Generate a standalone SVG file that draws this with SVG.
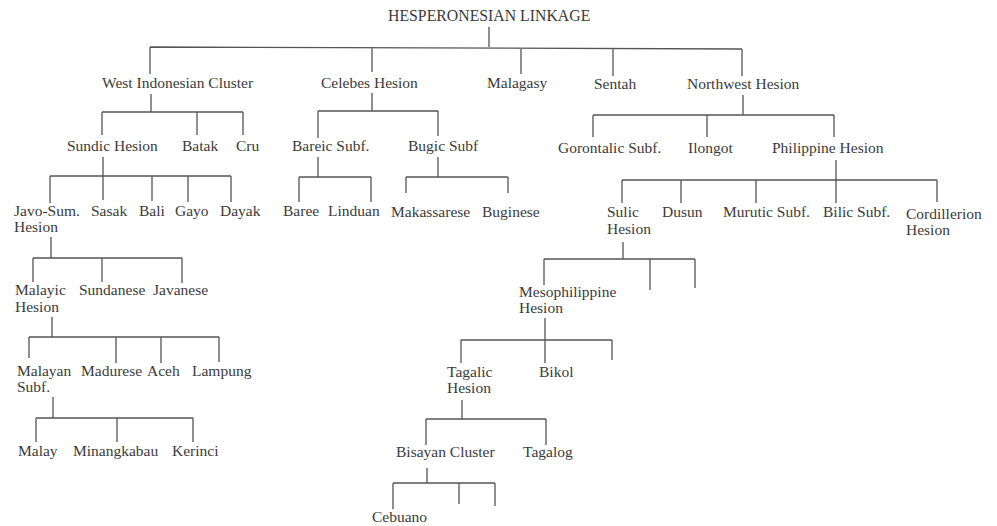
<svg xmlns="http://www.w3.org/2000/svg" width="997" height="526" viewBox="0 0 997 526">
  <style>
    text { font-family: "Liberation Serif", "Times New Roman", serif; font-size: 15.5px; fill: #3a3a3a; }
    .root { font-size: 15.8px; }
    #connectors path { fill: none; stroke: #555; stroke-width: 1.3; }
  </style>
  <rect width="997" height="526" fill="#ffffff"/>

  <g id="connectors">
    <!-- root -->
    <path d="M489,27 V47 M150,47 L742,49 M150,47 V74 M372,47 V72 M521,48 V74 M613,48 V76 M742,49 V76"/>
    <!-- West Indonesian Cluster -->
    <path d="M151,94 V112 M102,112 H243 M102,112 V135 M197,112 V135 M243,112 V135"/>
    <!-- Celebes Hesion -->
    <path d="M372,93 V111 M318,111 H438 M318,111 V138 M438,111 V136"/>
    <!-- Northwest Hesion -->
    <path d="M743,95 V115 M593,115 H834 M593,115 V137 M707,115 V137 M834,115 V137"/>
    <!-- Sundic Hesion -->
    <path d="M103,157 V176 M50,176 H231 M50,176 V203 M103,176 V200 M152,176 V201 M188,176 V202 M231,176 V202"/>
    <!-- Bareic Subf. -->
    <path d="M318,157 V177 M299,177 H371 M299,177 V202 M371,177 V202"/>
    <!-- Bugic Subf -->
    <path d="M438,157 V177 M406,177 H508 M406,177 V193 M508,177 V193"/>
    <!-- Philippine Hesion -->
    <path d="M836,160 V180 M622,180 H937 M622,180 V203 M681,180 V203 M756,180 V203 M836,180 V203 M937,180 V202"/>
    <!-- Javo-Sum. Hesion -->
    <path d="M51,237 V258 M33,258 H182 M33,258 V282 M102,258 V282 M182,258 V283"/>
    <!-- Malayic Hesion -->
    <path d="M52,317 V337 M29,337 H219 M29,337 V358 M116,337 V363 M161,337 V363 M219,337 V362"/>
    <!-- Malayan Subf. -->
    <path d="M53,397 V418 M36,418 H193 M36,418 V442 M117,418 V442 M193,418 V442"/>
    <!-- Sulic Hesion -->
    <path d="M623,242 V259 M544,259 H695 M544,259 V285 M650,259 V290 M695,259 V288"/>
    <!-- Mesophilippine Hesion -->
    <path d="M545,318 V340 M461,340 H612 M461,340 V363 M545,340 V363 M612,340 V360"/>
    <!-- Tagalic Hesion -->
    <path d="M462,400 V419 M426,419 H546 M426,419 V445 M546,419 V445"/>
    <!-- Bisayan Cluster -->
    <path d="M427,468 V483 M393,483 H495 M393,483 V509 M459,483 V504 M495,483 V506"/>
  </g>

  <g id="hesperonesian-linkage"><text class="root" x="388" y="21">HESPERONESIAN LINKAGE</text></g>

  <g id="west-indonesian-cluster"><text x="102" y="88">West Indonesian Cluster</text></g>
  <g id="celebes-hesion"><text x="321" y="88">Celebes Hesion</text></g>
  <g id="malagasy"><text x="487" y="88">Malagasy</text></g>
  <g id="sentah"><text x="594" y="89">Sentah</text></g>
  <g id="northwest-hesion"><text x="687" y="89">Northwest Hesion</text></g>

  <g id="sundic-hesion"><text x="67" y="151">Sundic Hesion</text></g>
  <g id="batak"><text x="182" y="151">Batak</text></g>
  <g id="cru"><text x="236" y="151">Cru</text></g>
  <g id="bareic-subf"><text x="292" y="151">Bareic Subf.</text></g>
  <g id="bugic-subf"><text x="408" y="151">Bugic Subf</text></g>
  <g id="gorontalic-subf"><text x="558" y="153">Gorontalic Subf.</text></g>
  <g id="ilongot"><text x="688" y="153">Ilongot</text></g>
  <g id="philippine-hesion"><text x="772" y="153">Philippine Hesion</text></g>

  <g id="javo-sum-hesion"><text x="14" y="216">Javo-Sum.</text><text x="14" y="232">Hesion</text></g>
  <g id="sasak"><text x="91" y="216">Sasak</text></g>
  <g id="bali"><text x="139" y="216">Bali</text></g>
  <g id="gayo"><text x="175" y="216">Gayo</text></g>
  <g id="dayak"><text x="220" y="216">Dayak</text></g>
  <g id="baree"><text x="283" y="216">Baree</text></g>
  <g id="linduan"><text x="328" y="216">Linduan</text></g>
  <g id="makassarese"><text x="391" y="217">Makassarese</text></g>
  <g id="buginese"><text x="482" y="217">Buginese</text></g>
  <g id="sulic-hesion"><text x="607" y="217">Sulic</text><text x="607" y="234">Hesion</text></g>
  <g id="dusun"><text x="662" y="217">Dusun</text></g>
  <g id="murutic-subf"><text x="723" y="217">Murutic Subf.</text></g>
  <g id="bilic-subf"><text x="823" y="217">Bilic Subf.</text></g>
  <g id="cordillerion-hesion"><text x="906" y="219">Cordillerion</text><text x="906" y="235">Hesion</text></g>

  <g id="malayic-hesion"><text x="15" y="295">Malayic</text><text x="15" y="312">Hesion</text></g>
  <g id="sundanese"><text x="79" y="295">Sundanese</text></g>
  <g id="javanese"><text x="153" y="295">Javanese</text></g>
  <g id="mesophilippine-hesion"><text x="519" y="297">Mesophilippine</text><text x="519" y="313">Hesion</text></g>

  <g id="malayan-subf"><text x="17" y="376">Malayan</text><text x="17" y="392">Subf.</text></g>
  <g id="madurese"><text x="81" y="376">Madurese</text></g>
  <g id="aceh"><text x="147" y="376">Aceh</text></g>
  <g id="lampung"><text x="192" y="376">Lampung</text></g>
  <g id="tagalic-hesion"><text x="447" y="377">Tagalic</text><text x="447" y="393">Hesion</text></g>
  <g id="bikol"><text x="539" y="377">Bikol</text></g>

  <g id="malay"><text x="18" y="456">Malay</text></g>
  <g id="minangkabau"><text x="73" y="456">Minangkabau</text></g>
  <g id="kerinci"><text x="172" y="456">Kerinci</text></g>
  <g id="bisayan-cluster"><text x="396" y="457">Bisayan Cluster</text></g>
  <g id="tagalog"><text x="523" y="457">Tagalog</text></g>

  <g id="cebuano"><text x="372" y="522">Cebuano</text></g>
</svg>
